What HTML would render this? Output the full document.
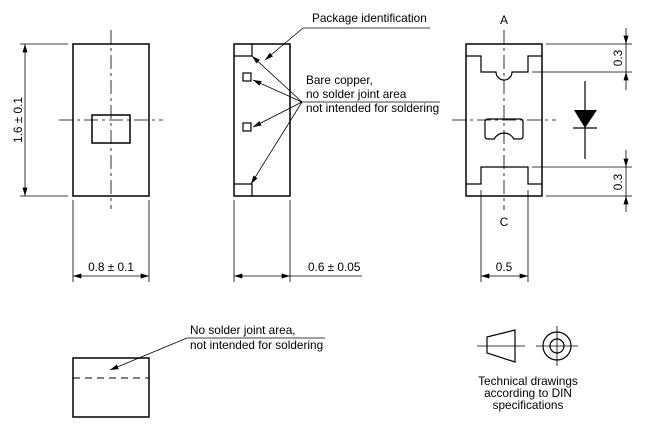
<!DOCTYPE html>
<html><head><style>
body{margin:0;background:#fff}
svg{display:block}
text{font-family:"Liberation Sans",Arial,sans-serif;font-size:11.8px;fill:#000}
</style></head><body>
<svg width="663" height="433" viewBox="0 0 663 433" xmlns="http://www.w3.org/2000/svg">
<defs>
<marker id="ar" viewBox="0 0 10 6" refX="10" refY="3" markerWidth="9" markerHeight="5" orient="auto-start-reverse" markerUnits="userSpaceOnUse"><path d="M0,0 L10,3 L0,6z" fill="#000"/></marker>
</defs>
<g fill="none" stroke="#000">
<rect x="73" y="44" width="76" height="152" stroke-width="1.5"/>
<rect x="92" y="115" width="38" height="28" stroke-width="1.5"/>
<path d="M111 30V209M59 120H163" stroke-width="0.8" stroke-dasharray="14,4,3,4"/>
<path d="M20 44H68M20 196H68M73 200V282M149 200V282" stroke-width="0.8"/>
<path d="M25 44V196" stroke-width="0.8" marker-start="url(#ar)" marker-end="url(#ar)"/>
<path d="M73 276H149" stroke-width="0.8" marker-start="url(#ar)" marker-end="url(#ar)"/>
<rect x="234" y="44" width="56" height="152" stroke-width="1.5"/>
<path d="M234 56H252V44M252 196V184H234" stroke-width="1.2"/>
<rect x="243" y="73" width="8" height="8" stroke-width="1.2"/>
<rect x="243" y="123" width="8" height="8" stroke-width="1.2"/>
<path d="M234 200V282M290 200V282" stroke-width="0.8"/>
<path d="M234 276H290" stroke-width="0.8" marker-start="url(#ar)" marker-end="url(#ar)"/>
<path d="M290 276H362" stroke-width="0.8"/>
<path d="M303 28H430" stroke-width="0.8"/>
<path d="M303 28L265 60" stroke-width="0.8" marker-end="url(#ar)"/>
<path d="M300 102H440" stroke-width="0.8"/>
<path d="M302 102L252 56" stroke-width="0.8" marker-end="url(#ar)"/>
<path d="M302 102L253 80" stroke-width="0.8" marker-end="url(#ar)"/>
<path d="M302 102L253 127" stroke-width="0.8" marker-end="url(#ar)"/>
<path d="M302 102L251 184" stroke-width="0.8" marker-end="url(#ar)"/>
<rect x="466" y="44" width="76" height="152" stroke-width="1.5"/>
<path d="M466 56H481V72H496A8 8 0 0 0 512 72H528V56H542" stroke-width="1.2"/>
<path d="M466 184H481V167H528V184H542" stroke-width="1.2"/>
<path d="M488 119H520Q523 119 523 122V136Q523 139 520 139H514Q510 133 504 133Q498 133 494 139H488Q485 139 485 136V122Q485 119 488 119Z" stroke-width="1.2"/>
<path d="M504 30V210M452 120H556" stroke-width="0.8" stroke-dasharray="14,4,3,4"/>
<path d="M546 44H632M532 72H632M532 167H632M546 196H632M481 190V282M528 190V282" stroke-width="0.8"/>
<path d="M626 28V44" stroke-width="0.8" marker-end="url(#ar)"/>
<path d="M626 90V72" stroke-width="0.8" marker-end="url(#ar)"/>
<path d="M626 44V72M626 167V196" stroke-width="0.8"/>
<path d="M626 150V167" stroke-width="0.8" marker-end="url(#ar)"/>
<path d="M626 212V196" stroke-width="0.8" marker-end="url(#ar)"/>
<path d="M481 276H528" stroke-width="0.8" marker-start="url(#ar)" marker-end="url(#ar)"/>
<path d="M585 81V159M573 128H597" stroke-width="1.2"/>
<rect x="73" y="358" width="76" height="59" stroke-width="1.5"/>
<path d="M73 378H149" stroke-width="1" stroke-dasharray="7,5"/>
<path d="M187 338H325" stroke-width="0.8"/>
<path d="M187 338L110 370" stroke-width="0.8" marker-end="url(#ar)"/>
<path d="M487 337L515 330V362L487 353Z" stroke-width="1.2"/>
<path d="M477 346H525M536 346H578M557 326V366" stroke-width="0.8"/>
<circle cx="557" cy="346" r="14" stroke-width="1.2"/>
<circle cx="557" cy="346" r="7" stroke-width="1.2"/>
</g>
<path d="M574 110H597L585 128Z" fill="#000"/>
<text x="18" y="120" text-anchor="middle" transform="rotate(-90 18 120)" dy="4">1.6 ± 0.1</text>
<text x="111" y="271" text-anchor="middle">0.8 ± 0.1</text>
<text x="308" y="271">0.6 ± 0.05</text>
<text x="312" y="22">Package identification</text>
<text x="306" y="84">Bare copper,</text>
<text x="306" y="98">no solder joint area</text>
<text x="306" y="112">not intended for soldering</text>
<text x="504" y="24" text-anchor="middle" font-size="13">A</text>
<text x="504" y="226" text-anchor="middle" font-size="13">C</text>
<text x="504" y="271" text-anchor="middle">0.5</text>
<text x="618" y="58" text-anchor="middle" transform="rotate(-90 618 58)" dy="4">0.3</text>
<text x="618" y="182" text-anchor="middle" transform="rotate(-90 618 182)" dy="4">0.3</text>
<text x="190" y="334">No solder joint area,</text>
<text x="190" y="349">not intended for soldering</text>
<text x="528" y="385" text-anchor="middle">Technical drawings</text>
<text x="528" y="397" text-anchor="middle">according to DIN</text>
<text x="528" y="409" text-anchor="middle">specifications</text>
</svg>
</body></html>
